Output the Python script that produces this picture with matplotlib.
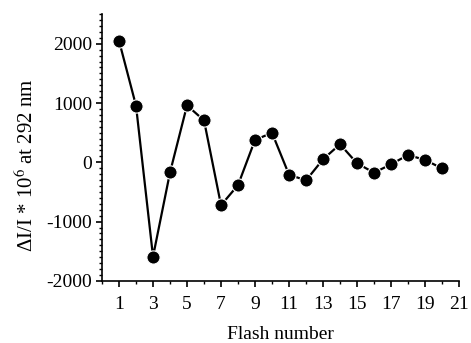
import matplotlib
matplotlib.use("Agg")
import matplotlib.pyplot as plt
from matplotlib.ticker import MultipleLocator

# Дані
flash_number = list(range(1, 21))
delta_i = [2050, 955, -1590, -170, 960, 706, -723, -384, 378, 497,
           -209, -305, 51, 305, -17, -175, -34, 124, 40, -102]

plt.rcParams['font.family'] = ['Liberation Serif', 'DejaVu Serif']
plt.rcParams['mathtext.fontset'] = 'stix'
plt.rcParams['axes.unicode_minus'] = False

fig = plt.figure(figsize=(4.71, 3.43), dpi=100)
ax = fig.add_axes([0.2166, 0.181, 0.758, 0.778])

ax.plot(flash_number, delta_i, color='black', linewidth=1.6,
        marker='o', markersize=9.5, markerfacecolor='black',
        markeredgecolor='white', markeredgewidth=0.8)

ax.set_xlim(0, 21)
ax.set_ylim(-2000, 2500)
ax.set_xticks([1, 3, 5, 7, 9, 11, 13, 15, 17, 19, 21])
ax.xaxis.set_minor_locator(MultipleLocator(1))
ax.set_yticks([-2000, -1000, 0, 1000, 2000])
ax.yaxis.set_minor_locator(MultipleLocator(100))

for side in ('top', 'right'):
    ax.spines[side].set_visible(False)
for side in ('left', 'bottom'):
    ax.spines[side].set_linewidth(1.2)

ax.tick_params(which='major', direction='out', length=4, width=1.2,
               labelsize=14, pad=3)
ax.tick_params(axis='x', which='major', pad=7)
ax.tick_params(which='minor', direction='out', length=2.5, width=1.0)

ax.set_xlabel('Flash number', fontsize=14, labelpad=9)
ax.set_ylabel(r'ΔI/I * 10$^{6}$ at 292 nm', fontsize=15)
ax.yaxis.set_label_coords(-0.178, 0.434)

fig.savefig('out.png', dpi=100)
